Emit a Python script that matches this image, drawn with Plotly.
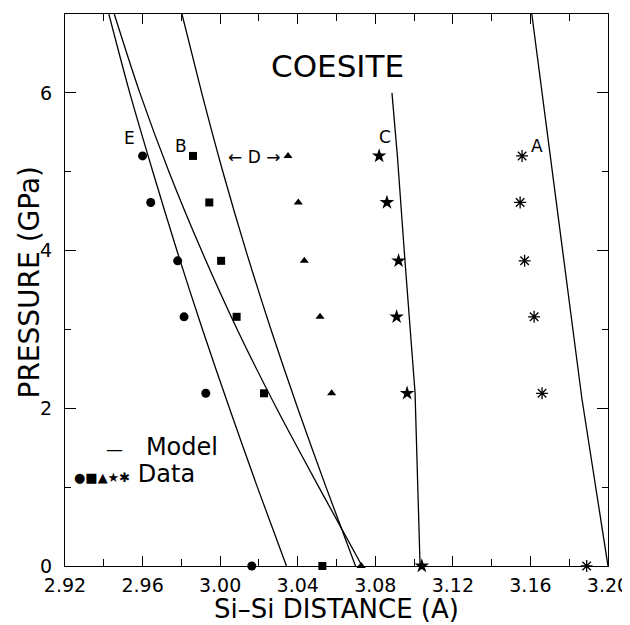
import plotly.graph_objects as go

# ---- Data ----
pressure_data = [0.0, 2.19, 3.16, 3.87, 4.61, 5.20]
E_data = [3.0163, 2.9926, 2.9814, 2.9781, 2.9642, 2.9600]   # circles
B_data = [3.0527, 3.0226, 3.0085, 3.0005, 2.9944, 2.9860]   # squares
D_data = [3.0727, 3.0575, 3.0515, 3.0434, 3.0403, 3.0350]   # triangles
C_data = [3.1040, 3.0964, 3.0910, 3.0920, 3.0860, 3.0820]   # stars
A_data = [3.1890, 3.1660, 3.1619, 3.1570, 3.1547, 3.1557]   # asterisks

P_model = [0, 1, 2, 3, 4, 5, 6, 7]
E_model = [3.0342, 3.0192, 3.0048, 2.9909, 2.9777, 2.9653, 2.9534, 2.9426]
B_model = [3.0732, 3.0509, 3.0291, 3.0088, 2.9904, 2.9736, 2.9586, 2.9454]
D_model = [3.0698, 3.0546, 3.0400, 3.0262, 3.0133, 3.0014, 2.9905, 2.9803]
C_model_P = [0, 2.2, 3.87, 5.2, 6.0]
C_model = [3.1031, 3.1005, 3.0953, 3.0914, 3.0886]
A_model_P = [0, 2.13, 4.0, 7.0]
A_model = [3.2000, 3.1865, 3.1766, 3.1607]

x_ticks = [2.92, 2.96, 3.00, 3.04, 3.08, 3.12, 3.16, 3.20]
x_ticklabels = ["2.92", "2.96", "3.00", "3.04", "3.08", "3.12", "3.16", "3.20"]
y_ticks = [0, 2, 4, 6]

curve_labels = ["E", "B", "\u2190 D \u2192", "C", "A"]
curve_label_x = [2.9535, 2.9797, 3.0175, 3.0850, 3.1633]
curve_label_y = [5.43, 5.32, 5.19, 5.44, 5.32]

FONT = "DejaVu Sans"
fig = go.Figure()

smooth = dict(color="black", width=1.3, shape="spline", smoothing=0.8)
straight = dict(color="black", width=1.3)
for px_, py_, st in [(E_model, P_model, smooth), (B_model, P_model, smooth),
                     (D_model, P_model, smooth),
                     (C_model, C_model_P, straight), (A_model, A_model_P, straight)]:
    fig.add_trace(go.Scatter(x=px_, y=py_, mode="lines", line=st,
                             showlegend=False, hoverinfo="skip"))

markers = [
    (E_data, dict(symbol="circle", size=9, color="black")),
    (B_data, dict(symbol="square", size=8, color="black")),
    (D_data, dict(symbol="triangle-up", size=8, color="black")),
    (C_data, dict(symbol="star", size=11, color="black")),
    (A_data, dict(symbol="asterisk-open", size=10, color="black",
                  line=dict(color="black", width=1.3))),
]
for xs, mk in markers:
    fig.add_trace(go.Scatter(x=xs, y=pressure_data, mode="markers", marker=mk,
                             cliponaxis=False, showlegend=False))

annotations = []
for t, x, y in zip(curve_labels, curve_label_x, curve_label_y):
    annotations.append(dict(x=x, y=y, xref="x", yref="y", text=t, showarrow=False,
                            font=dict(family=FONT, size=17, color="black")))
annotations.append(dict(x=3.0603, y=6.34, xref="x", yref="y", text="COESITE",
                        showarrow=False, font=dict(family=FONT, size=31, color="black")))
annotations.append(dict(x=0.072, y=0.216, xref="paper", yref="paper", xanchor="left",
                        yanchor="middle",
                        text="<span style='font-size:17px'>\u2014</span>&nbsp;&nbsp;&nbsp;Model",
                        showarrow=False,
                        font=dict(family=FONT, size=24, color="black")))
annotations.append(dict(x=0.013, y=0.166, xref="paper", yref="paper", xanchor="left",
                        yanchor="middle",
                        text="<span style='font-size:13px'>\u25cf\u25a0\u25b2\u2605\u2731</span> Data",
                        showarrow=False,
                        font=dict(family=FONT, size=24, color="black")))
# axis titles
annotations.append(dict(x=0.5, y=-0.0775, xref="paper", yref="paper", xanchor="center",
                        yanchor="middle", text="Si\u2013Si DISTANCE (A)", showarrow=False,
                        font=dict(family=FONT, size=26, color="black")))
annotations.append(dict(x=-0.0645, y=0.5136, xref="paper", yref="paper", xanchor="center",
                        yanchor="middle", text="PRESSURE (GPa)", textangle=-90, showarrow=False,
                        font=dict(family=FONT, size=28, color="black")))

axis_common = dict(showgrid=False, zeroline=False, showline=True, linecolor="black",
                   linewidth=1.3, mirror="ticks", ticks="inside", tickcolor="black",
                   tickwidth=1.2, automargin=False,
                   tickfont=dict(family=FONT, size=19, color="black"))

# page body has an 8px margin, so the figure is sized/offset to place the
# plot area at x 65..608, y 14..566 in the window
fig.update_layout(
    width=622, height=617,
    margin=dict(l=57, r=22, t=6, b=59),
    paper_bgcolor="white", plot_bgcolor="white",
    xaxis=dict(range=[2.92, 3.20], tickvals=x_ticks, ticktext=x_ticklabels, ticklen=10,
               ticklabelstandoff=2,
               minor=dict(dtick=0.02, tick0=2.92, ticklen=7, ticks="inside", tickcolor="black"),
               **axis_common),
    yaxis=dict(range=[0, 7], tickvals=y_ticks, ticklen=11, ticklabelstandoff=8,
               minor=dict(dtick=1, tick0=0, ticklen=6, ticks="inside", tickcolor="black"),
               **axis_common),
    annotations=annotations,
)

fig.write_html("out.html")
